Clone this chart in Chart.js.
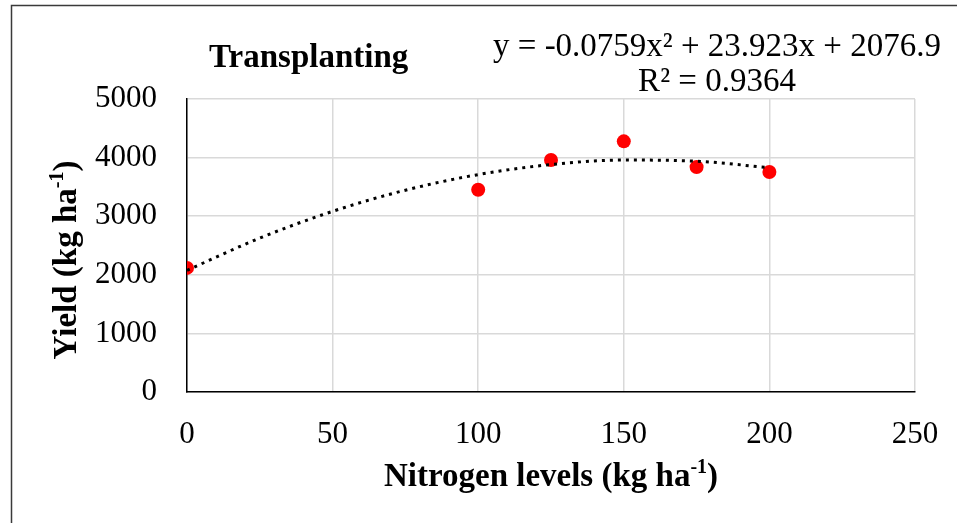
<!DOCTYPE html>
<html>
<head>
<meta charset="utf-8">
<script src="https://cdn.jsdelivr.net/npm/chart.js@4.4.0/dist/chart.umd.min.js"></script>
<style>
html, body { margin: 0; padding: 0; background: #fff; }
#wrap { position: relative; width: 957px; height: 523px; }
</style>
</head>
<body>
<div id="wrap"><canvas id="yield-chart" width="957" height="523"></canvas></div>
<script>
// Nitrogen levels (kg/ha) and grain yield (kg/ha)
var nitrogen = [0, 100, 125, 150, 175, 200];
var yieldValues = [2118, 3451, 3958, 4277, 3838, 3753];

// dotted polynomial trend curve
var trendX = [0, 25, 50, 75, 100, 125, 150, 175, 200];
var trendY = [2077, 2627, 3083, 3444, 3710, 3881, 3958, 3939, 3826];

var xTicks = [0, 50, 100, 150, 200, 250];
var yTicks = [0, 1000, 2000, 3000, 4000, 5000];

var chartTitle = 'Transplanting';
var equationText = 'y = -0.0759x² + 23.923x + 2076.9';
var r2Text = 'R² = 0.9364';

var serif = "'Liberation Serif', 'Times New Roman', serif";

function toPoints(xs, ys) {
    return xs.map(function (x, i) { return { x: x, y: ys[i] }; });
}

// draws "text" + superscript + "tail" centred on (0, 0)
function drawSupTitle(ctx, main, sup, tail, size) {
    var bigFont = 'bold ' + size + 'px ' + serif;
    var smallFont = 'bold ' + Math.round(size * 0.62) + 'px ' + serif;
    ctx.font = bigFont;
    var w1 = ctx.measureText(main).width;
    var w3 = ctx.measureText(tail).width;
    ctx.font = smallFont;
    var w2 = ctx.measureText(sup).width;
    var x = -(w1 + w2 + w3) / 2;
    ctx.textAlign = 'left';
    ctx.textBaseline = 'alphabetic';
    ctx.font = bigFont;
    ctx.fillText(main, x, 0);
    ctx.font = smallFont;
    ctx.fillText(sup, x + w1, -size * 0.38);
    ctx.font = bigFont;
    ctx.fillText(tail, x + w1 + w2, 0);
}

var textPlugin = {
    id: 'textPlugin',
    beforeDraw: function (chart) {
        var ctx = chart.ctx;
        ctx.save();
        ctx.fillStyle = '#fff';
        ctx.fillRect(0, 0, chart.width, chart.height);
        // outer frame (only left and top edges show)
        ctx.strokeStyle = '#3a3a3a';
        ctx.lineWidth = 1.5;
        ctx.beginPath();
        ctx.moveTo(11.5, chart.height);
        ctx.lineTo(11.5, 5.5);
        ctx.lineTo(chart.width, 5.5);
        ctx.stroke();
        ctx.restore();
    },
    afterDraw: function (chart) {
        var ctx = chart.ctx;
        var area = chart.chartArea;
        ctx.save();
        ctx.fillStyle = '#000';

        ctx.font = 'bold 33px ' + serif;
        ctx.textAlign = 'left';
        ctx.textBaseline = 'alphabetic';
        ctx.fillText(chartTitle, 209, 67);

        ctx.font = '33px ' + serif;
        ctx.textAlign = 'center';
        ctx.fillText(equationText, 717, 56);
        ctx.fillText(r2Text, 717, 91);

        // x axis title
        ctx.save();
        ctx.translate((area.left + area.right) / 2, 486);
        drawSupTitle(ctx, 'Nitrogen levels (kg ha', '-1', ')', 33);
        ctx.restore();

        // y axis title
        ctx.save();
        ctx.translate(76, 260);
        ctx.rotate(-Math.PI / 2);
        drawSupTitle(ctx, 'Yield (kg ha', '-1', ')', 33);
        ctx.restore();

        ctx.restore();
    }
};

var ctx = document.getElementById('yield-chart');

var chartData = {
    datasets: [{
        label: 'Trend',
        type: 'line',
        data: toPoints(trendX, trendY),
        borderColor: '#000',
        borderWidth: 3,
        borderDash: [3, 5],
        pointRadius: 0,
        cubicInterpolationMode: 'monotone',
        fill: false,
        order: 0
    }, {
        label: 'Yield',
        type: 'scatter',
        data: toPoints(nitrogen, yieldValues),
        backgroundColor: '#ff0000',
        borderWidth: 0,
        pointRadius: 7,
        order: 1
    }]
};

var axisFont = { family: serif, size: 31 };

var chartOptions = {
    responsive: false,
    animation: false,
    layout: { padding: { top: 99, right: 42, left: 0, bottom: 0 } },
    plugins: {
        legend: { display: false },
        tooltip: { enabled: false }
    },
    scales: {
        x: {
            type: 'linear',
            min: 0,
            max: 250,
            afterBuildTicks: function (s) { s.ticks = xTicks.map(function (v) { return { value: v }; }); },
            afterFit: function (s) {
                s.height = 131;
                s.paddingLeft = 0;
                s.paddingRight = 0;
            },
            grid: { color: '#d9d9d9', lineWidth: 1.5, drawTicks: false },
            border: { color: '#000', width: 1.5 },
            ticks: { color: '#000', padding: 24, font: axisFont, maxRotation: 0 }
        },
        y: {
            type: 'linear',
            min: 0,
            max: 5000,
            afterBuildTicks: function (s) { s.ticks = yTicks.map(function (v) { return { value: v }; }); },
            afterFit: function (s) {
                s.width = 187;
                s.paddingTop = 0;
                s.paddingBottom = 0;
            },
            grid: { color: '#d9d9d9', lineWidth: 1.5, drawTicks: false },
            border: { color: '#000', width: 1.5 },
            ticks: {
                color: '#000',
                padding: 30,
                font: axisFont,
                callback: function (v) { return String(v); }
            }
        }
    }
};

var yieldChart = new Chart(ctx, {
    type: 'scatter',
    data: chartData,
    options: chartOptions,
    plugins: [textPlugin]
});
</script>
</body>
</html>
